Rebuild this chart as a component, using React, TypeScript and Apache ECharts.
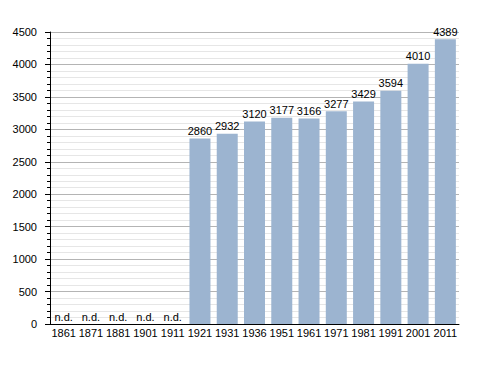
import React, { useEffect, useRef } from "react";
import * as echarts from "echarts";

const categories = ["1861", "1871", "1881", "1901", "1911", "1921", "1931", "1936", "1951", "1961", "1971", "1981", "1991", "2001", "2011"];
const values: (number | null)[] = [null, null, null, null, null, 2860, 2932, 3120, 3177, 3166, 3277, 3429, 3594, 4010, 4389];
const yTicks = [0, 500, 1000, 1500, 2000, 2500, 3000, 3500, 4000, 4500];

export default function App() {
  const ref = useRef<HTMLDivElement>(null);
  useEffect(() => {
    const chart = echarts.init(ref.current!, null, { renderer: "svg" });
    const font = "Liberation Sans, Arial, sans-serif";
    chart.setOption({
      animation: false,
      grid: { left: 50, right: 29, top: 32, bottom: 49, containLabel: false },
      xAxis: {
        type: "category",
        data: categories,
        axisLine: { lineStyle: { color: "#000", width: 1 } },
        axisTick: { show: false },
        axisLabel: { color: "#000", fontSize: 11, fontFamily: font, margin: 3, interval: 0 },
      },
      yAxis: {
        type: "value",
        min: yTicks[0],
        max: yTicks[yTicks.length - 1],
        interval: 500,
        axisLine: { show: true, lineStyle: { color: "#000", width: 1 } },
        axisTick: { show: true, length: 5, lineStyle: { color: "#000" } },
        minorTick: { show: true, splitNumber: 5, length: 3, lineStyle: { color: "#000" } },
        splitLine: { show: true, lineStyle: { color: "#b4b4b4", width: 1 } },
        minorSplitLine: { show: true, lineStyle: { color: "#e6e6e6", width: 1 } },
        axisLabel: { color: "#000", fontSize: 11, fontFamily: font, margin: 13, formatter: (v: number) => String(v) },
      },
      series: [
        {
          type: "bar",
          barCategoryGap: "23%",
          data: values.map((v) =>
            v === null
              ? { value: 0, label: { show: true, formatter: "n.d." } }
              : { value: v }
          ),
          itemStyle: { color: "#9cb4d0" },
          label: {
            show: true,
            position: "top",
            distance: 2,
            color: "#000",
            fontSize: 11,
            fontFamily: font,
          },
        },
      ],
    });
    return () => chart.dispose();
  }, []);
  return <div ref={ref} style={{ width: 488, height: 373, position: "absolute", left: 0, top: 0, background: "#fff" }} />;
}
